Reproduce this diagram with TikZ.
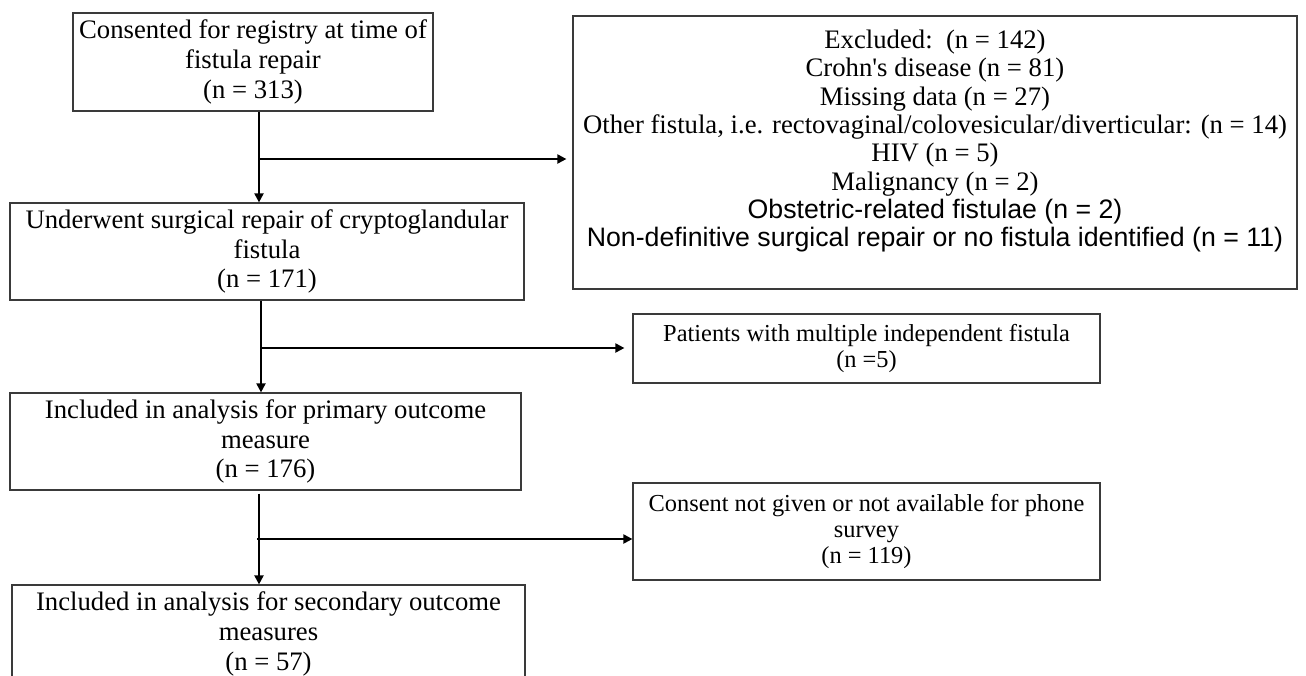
\documentclass[tikz,border=0pt]{standalone}
\usepackage{fontspec}
\setmainfont{Liberation Serif}
\newfontfamily\arialfont{Liberation Sans}
\usetikzlibrary{arrows.meta}
\definecolor{boxgray}{HTML}{3A3A3A}
\begin{document}
\begin{tikzpicture}[x=0.5pt,y=-0.5pt,
  box/.style={draw=boxgray, line width=0.6pt, inner sep=0pt, align=center,
    font=\fontsize{13.35}{14.9}\selectfont},
  smallbox/.style={box, font=\fontsize{12.2}{13}\selectfont},
  flow/.style={line width=1pt, -{Triangle[length=4.5pt,width=4.5pt]}}]
\clip (0,0) rectangle (1306,675);
\fill[white] (0,0) rectangle (1306,675);

\node[box, minimum width=180pt, minimum height=49pt] (box1) at (253,62)
  {Consented for registry at time of\\fistula repair\\(n = 313)};
\node[box, minimum width=257pt, minimum height=48.5pt] (box2) at (267,251.5)
  {Underwent surgical repair of cryptoglandular\\fistula\\(n = 171)};
\node[box, minimum width=362pt, minimum height=136.5pt,
  font=\fontsize{13.35}{14.15}\selectfont] (box3) at (935,152.5)
  {Excluded:\ \ (n = 142)\\
   Crohn\textquotesingle s disease (n = 81)\\
   Missing data (n = 27)\\
   Other fistula, i.e. rectovaginal/colovesicular/diverticular: (n = 14)\\
   HIV (n = 5)\\
   Malignancy (n = 2)\\
   {\arialfont Obstetric-related fistulae (n = 2)}\\
   {\arialfont Non-definitive surgical repair or no fistula identified (n = 11)}\\
   \mbox{}};
\node[smallbox, minimum width=233.5pt, minimum height=34.5pt] (box4) at (866.5,348.5)
  {Patients with multiple independent fistula\\(n =5)};
\node[box, minimum width=255.5pt, minimum height=48.5pt] (box5) at (265.5,441.5)
  {Included in analysis for primary outcome\\measure\\(n = 176)};
\node[smallbox, minimum width=233.5pt, minimum height=48.5pt] (box6) at (866.5,531.5)
  {Consent not given or not available for phone\\survey\\(n = 119)};
\node[box, minimum width=256.5pt, minimum height=49pt] (box7) at (268.5,634)
  {Included in analysis for secondary outcome\\measures\\(n = 57)};

\coordinate (j1) at (259,159);
\draw[flow] (box1.south -| j1) -- (box2.north -| j1);
\draw[flow, shorten >=3pt] (j1) -- (box3.west |- j1);

\coordinate (j2) at (261,348);
\draw[flow] (box2.south -| j2) -- (box5.north -| j2);
\draw[flow, shorten >=4pt] (j2) -- (box4.west |- j2);

\coordinate (j3) at (259,539);
\coordinate (j3s) at (257,539);
\draw[flow, shorten <=1.5pt] (box5.south -| j3) -- (box7.north -| j3);
\draw[flow] (j3s) -- (box6.west |- j3s);
\end{tikzpicture}
\end{document}
